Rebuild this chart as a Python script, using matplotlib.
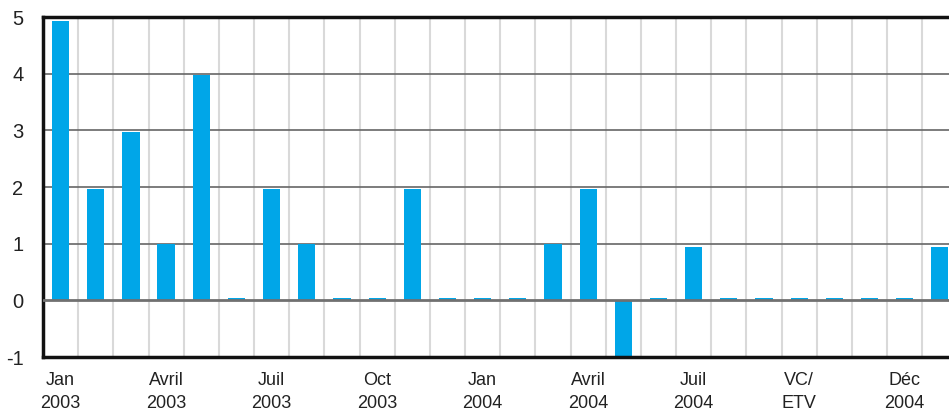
import matplotlib
matplotlib.use("Agg")
import matplotlib.pyplot as plt
import numpy as np

values = [4.93, 1.97, 2.97, 1.0, 3.97, 0.04, 1.97, 1.0, 0.04, 0.04, 1.97, 0.04, 0.04,
          0.04, 1.0, 1.97, -1.0, 0.04, 0.95, 0.04, 0.04, 0.04, 0.04, 0.04, 0.04, 0.95]
tick_idx = [0, 3, 6, 9, 12, 15, 18, 21, 24]
tick_labels = ["Jan\n2003", "Avril\n2003", "Juil\n2003", "Oct\n2003", "Jan\n2004",
               "Avril\n2004", "Juil\n2004", "VC/\nETV", "Déc\n2004"]
yticks = [-1, 0, 1, 2, 3, 4, 5]

plt.rcParams['font.family'] = ['Liberation Sans', 'DejaVu Sans']

fig = plt.figure(figsize=(9.49, 4.11), dpi=100)
ax = fig.add_axes([43/949, 1-357/411, 1-43/949, 340/411])

x = np.arange(len(values))
ax.bar(x, values, width=0.49, color='#00A6E8', zorder=2)

for g in np.arange(0.5, len(values) - 1, 1.0):
    ax.axvline(g, color='#d9d9d9', lw=1.5, zorder=0)
for yv in [1, 2, 3, 4]:
    ax.axhline(yv, color='#666666', lw=1.2, zorder=1)
ax.axhline(0, color='#707070', lw=2.0, zorder=3)

ax.set_xlim(-0.5, 25.26)
ax.set_ylim(-1, 5)
ax.set_yticks(yticks)
ax.set_yticklabels([str(v) for v in yticks], fontsize=14.5, color='#222222')
ax.set_xticks(tick_idx)
ax.set_xticklabels(tick_labels, fontsize=13, color='#222222', linespacing=1.45)
ax.tick_params(axis='both', length=0)
ax.tick_params(axis='y', pad=14)
ax.tick_params(axis='x', pad=11)

for s in ['left', 'bottom', 'top']:
    ax.spines[s].set_linewidth(2.5)
    ax.spines[s].set_color('#111111')
ax.spines['right'].set_visible(False)

fig.savefig('out.png', dpi=100)
